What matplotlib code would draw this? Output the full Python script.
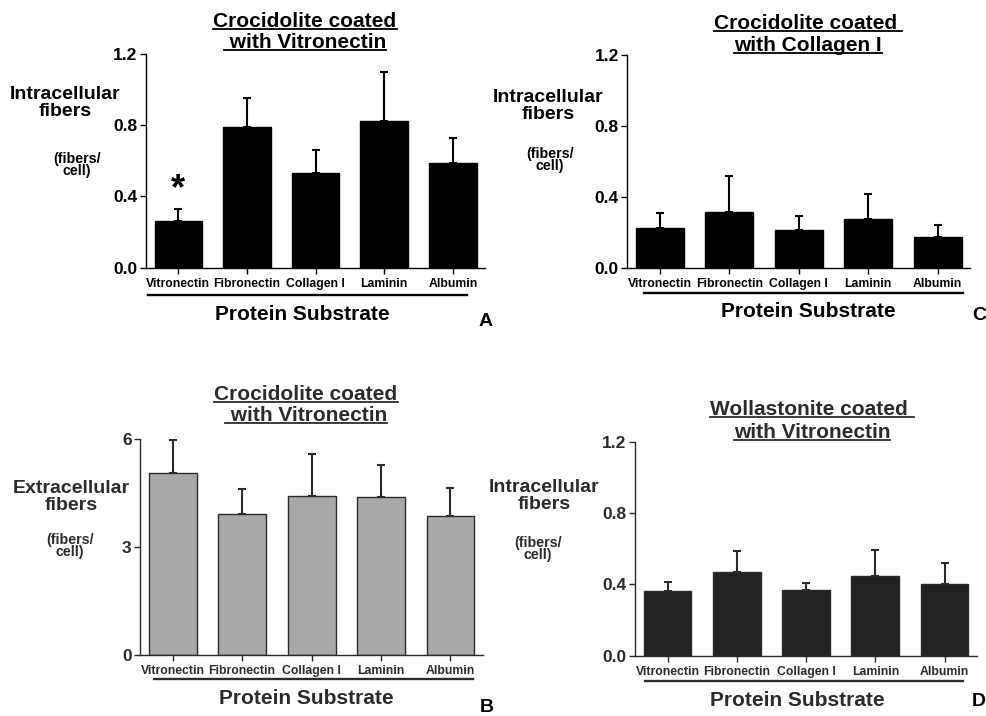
import matplotlib
matplotlib.use("Agg")
import matplotlib.pyplot as plt
import numpy as np

plt.rcParams['font.family'] = ['Liberation Sans', 'DejaVu Sans']
plt.rcParams['font.weight'] = 'bold'

proteins = ['Vitronectin', 'Fibronectin', 'Collagen I', 'Laminin', 'Albumin']

# panel A: crocidolite + vitronectin, intracellular
a_mean = [0.264, 0.79, 0.533, 0.82, 0.59]
a_err = [0.066, 0.163, 0.127, 0.28, 0.14]
# panel C: crocidolite + collagen I, intracellular
c_mean = [0.225, 0.315, 0.214, 0.276, 0.175]
c_err = [0.085, 0.205, 0.081, 0.141, 0.067]
# panel B: crocidolite + vitronectin, extracellular
b_mean = [5.06, 3.92, 4.42, 4.39, 3.86]
b_err = [0.91, 0.69, 1.16, 0.89, 0.78]
# panel D: wollastonite + vitronectin, intracellular
d_mean = [0.364, 0.471, 0.37, 0.449, 0.404]
d_err = [0.051, 0.118, 0.04, 0.145, 0.116]

fig = plt.figure(figsize=(9.86, 7.16), dpi=100)
W, H = 986.0, 716.0


def px(x, y):
    return x / W, 1 - y / H


def make_panel(rect, means, errs, yticks, ticklabels, barcolor, textcolor, ylim):
    ax = fig.add_axes(rect)
    x = np.arange(len(proteins))
    ax.bar(x, means, width=0.69, color=barcolor, edgecolor=textcolor, linewidth=1.0, zorder=2)
    ax.errorbar(x, means, yerr=[np.zeros(len(errs)), errs], fmt='none',
                ecolor=textcolor, elinewidth=1.5, capsize=3, capthick=1.5, zorder=1)
    ax.set_xlim(-0.47, 4.47)
    ax.set_ylim(*ylim)
    ax.set_yticks(yticks)
    ax.set_yticklabels(ticklabels, fontsize=12.5, fontweight='bold', color=textcolor)
    ax.set_xticks(x)
    ax.set_xticklabels(proteins, fontsize=8.8, fontweight='bold', color=textcolor)
    for s in ['top', 'right']:
        ax.spines[s].set_visible(False)
    for s in ['left', 'bottom']:
        ax.spines[s].set_color(textcolor)
        ax.spines[s].set_linewidth(1.0)
    ax.tick_params(axis='both', direction='out', length=4, width=1.0, color=textcolor)
    ax.tick_params(axis='x', pad=3)
    ax.tick_params(axis='y', pad=2)
    ax.set_facecolor('none')
    return ax


axA = make_panel([0.148, 0.626, 0.344, 0.299], a_mean, a_err, [0, 0.4, 0.8, 1.2],
                 ['0.0', '0.4', '0.8', '1.2'], 'black', 'black', (0, 1.2))
axC = make_panel([0.636, 0.626, 0.348, 0.297], c_mean, c_err, [0, 0.4, 0.8, 1.2],
                 ['0.0', '0.4', '0.8', '1.2'], 'black', 'black', (0, 1.2))
axB = make_panel([0.142, 0.085, 0.348, 0.302], b_mean, b_err, [0, 3, 6],
                 ['0', '3', '6'], '#a9a9a9', '#2b2b2b', (0, 6))
axD = make_panel([0.644, 0.084, 0.347, 0.299], d_mean, d_err, [0, 0.4, 0.8, 1.2],
                 ['0.0', '0.4', '0.8', '1.2'], '#222222', '#2b2b2b', (0, 1.2))

# asterisk over vitronectin in panel A
axA.text(0, 0.44, '*', ha='center', va='center', fontsize=26, fontweight='bold')

# lines under the category labels
for ax, (x0, x1, yy), col in [(axA, (0.006, 0.947, -0.126), 'black'),
                              (axC, (0.05, 0.98, -0.118), 'black'),
                              (axB, (0.04, 0.97, -0.111), '#2b2b2b'),
                              (axD, (0.03, 0.96, -0.117), '#2b2b2b')]:
    ax.plot([x0, x1], [yy, yy], transform=ax.transAxes, color=col, lw=1.7, clip_on=False)

# x axis titles
for (cx, cy), col in [((302, 314), 'black'), ((808, 311), 'black'),
                      ((306, 698), '#2b2b2b'), ((797, 700), '#2b2b2b')]:
    fig.text(*px(cx, cy), 'Protein Substrate', ha='center', va='center',
             fontsize=15, fontweight='bold', color=col)

# y axis labels
ylabels = [
    ('Intracellular\nfibers', (65, 103), (77, 165), 'black'),
    ('Intracellular\nfibers', (548, 106), (550, 160), 'black'),
    ('Extracellular\nfibers', (71, 497), (70, 546), '#2b2b2b'),
    ('Intracellular\nfibers', (544, 496), (538, 549), '#2b2b2b'),
]
for lab, p1, p2, col in ylabels:
    fig.text(*px(*p1), lab, ha='center', va='center', fontsize=14,
             fontweight='bold', color=col, linespacing=0.95)
    fig.text(*px(*p2), '(fibers/\ncell)', ha='center', va='center', fontsize=10.3,
             fontweight='bold', color=col, linespacing=0.8)

# panel letters
for let, (lx, ly) in [('A', (493, 322)), ('C', (986, 315)), ('B', (494, 707)), ('D', (986, 702))]:
    fig.text(*px(lx, ly), let, ha='right', va='center', fontsize=14, fontweight='bold')

# underlined titles
titles = [
    (('Crocidolite coated', (305, 27)), (' with Vitronectin', (305, 48)), 'black'),
    (('Crocidolite coated ', (808, 29)), ('with Collagen I', (808, 51)), 'black'),
    (('Crocidolite coated', (306, 400)), (' with Vitronectin', (306, 421)), '#2b2b2b'),
    (('Wollastonite coated ', (812, 415)), ('with Vitronectin', (812, 438)), '#2b2b2b'),
]
title_texts = []
for l1, l2, col in titles:
    for s, (tx, ty) in (l1, l2):
        t = fig.text(*px(tx, ty), s, ha='center', va='baseline', fontsize=15,
                     fontweight='bold', color=col)
        title_texts.append((t, ty, col))

fig.canvas.draw()
renderer = fig.canvas.get_renderer()
for t, ty, col in title_texts:
    bb = t.get_window_extent(renderer)
    yline = 1 - (ty + 2) / H
    fig.add_artist(plt.Line2D([bb.x0 / W, bb.x1 / W], [yline, yline],
                              transform=fig.transFigure, color=col, lw=1.3))

fig.savefig('out.png', dpi=100)
